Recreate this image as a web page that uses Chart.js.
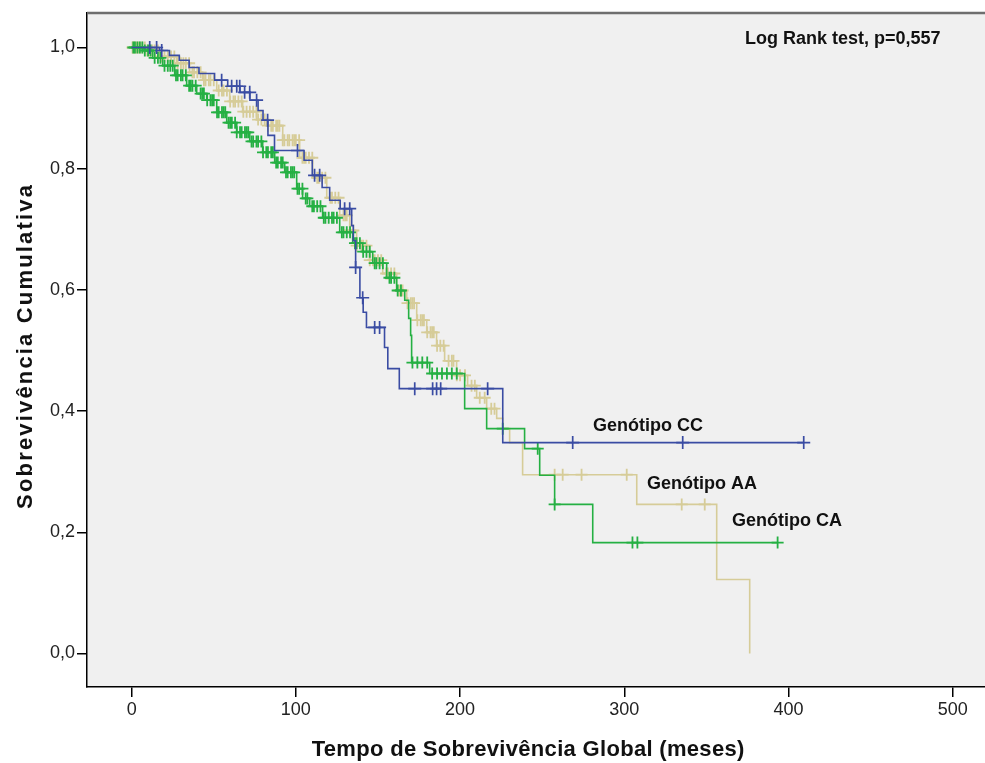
<!DOCTYPE html>
<html><head><meta charset="utf-8">
<script src="https://cdn.jsdelivr.net/npm/chart.js@4/dist/chart.umd.min.js"></script>
<style>html,body{margin:0;padding:0;background:#fff;}</style>
</head><body>
<canvas id="c" width="985" height="763"></canvas>
<script>
// ---- Data ----
const xTicks = [0, 100, 200, 300, 400, 500];
const yTicks = [0, 0.2, 0.4, 0.6, 0.8, 1.0];

// Genótipo CC (blue): event times and survival after each event
const ccTimes = [17,23,29,35,41,50.5,58.5,66,72,77,80,83,87,105,110,116,120.6,127,134,135,136.4,139,141,143,154,156,163,226];
const ccSurv  = [0.995,0.987,0.979,0.967,0.957,0.946,0.936,0.926,0.913,0.896,0.880,0.855,0.830,0.814,0.789,0.769,0.748,0.734,0.706,0.681,0.637,0.587,0.563,0.538,0.505,0.470,0.437,0.348];
const ccEnd = 409.3;
const ccCensor = [11,15.2,18.3,54.8,60.9,64,65.8,68.8,71.9,76.1,82.8,101,111.4,114.5,129.7,132.8,136.4,140.7,148,151,172.4,183.3,185.7,188.2,216.8,268.6,335.6,409.3];

// Genótipo CA (green)
const caTimes = [6.7,12.8,18.9,26.2,33.5,39.6,45.7,51.8,57.9,64.0,71.9,79.8,87.1,93.2,100.5,104.1,108.4,116.3,126.7,134.6,140.7,146.8,155.3,161.4,166.3,168.7,169.9,170.5,181.5,202.8,216.2,239.3,248.5,257.6,280.8];
const caSurv  = [0.995,0.983,0.970,0.954,0.937,0.924,0.913,0.893,0.876,0.860,0.845,0.827,0.810,0.794,0.767,0.751,0.738,0.719,0.695,0.677,0.663,0.644,0.620,0.599,0.583,0.553,0.525,0.480,0.462,0.404,0.371,0.338,0.294,0.246,0.183];
const caEnd = 393.4;
const caCensor = [1,2,3.5,5,6.5,8,10,11.5,14,16,17.5,20,22,23.5,25,27,28,30,31,33,35,36,37,39,42,43,44,46,48,49,50,52,53,55,56,57,59,60,61,63,64,66,67,69,70,71,73,74,76,77,79,80,82,83,85,86,88,89,91,92,94,95,97,98,99,101,102,104,106,107,110,111,113,115,117,118,120,122,123,125,128,129,131,133,136,137,139,141,143,145,148,149,151,153,157,158,160,162,164,171,174,177,180,183,186,189,192,195,198,226,247.3,257.6,305,308,393.4];

// Genótipo AA (tan)
const aaTimes = [9.1,17.1,27.4,35.3,43.2,51.8,59.7,67.6,76.1,82.2,92.0,102.3,110.2,118.8,126.7,132.8,137.0,144.9,152.9,161.4,167.5,173.6,179.7,185.7,190.6,197.9,204.6,210.1,216.2,222.3,226,230.2,238.1,307.6,356.3,376.4];
const aaSurv  = [0.995,0.985,0.974,0.959,0.946,0.929,0.911,0.894,0.881,0.871,0.847,0.818,0.785,0.752,0.723,0.698,0.673,0.649,0.627,0.599,0.578,0.550,0.530,0.508,0.483,0.459,0.442,0.422,0.404,0.388,0.371,0.348,0.295,0.246,0.122,0.0];
const aaEnd = 376.4;
const aaCensor = [0.5,1,2,3,4,5,6.5,8,9.5,11,12.5,14,16,18,20,22,24,26,28,30,31.5,33,35,37,38,40,42,44,45,47,48,50,53,55,56,58,60,62,63,65,67,68,70,72,74,76,77,79,81,83,85,86,88,89,90,92,93,95,96,98,99,100,102,104,105,106,108,110,113,114,116,118,121,122,124,126,129,130,131,133,135,137,140,141,143,145,147,148,150,152,155,156,158,160,163,164,165,168,170,171,172,174,176,177,178,180,182,183,184,186,188,190,193,195,196,198,200,203,207,209,212,215,219,221,257.6,262.5,274,301.5,335,349];

const groupLabels = ['Genótipo CC', 'Genótipo AA', 'Genótipo CA'];
const testLabel = 'Log Rank test, p=0,557';
const xTitle = 'Tempo de Sobrevivência Global (meses)';
const yTitle = 'Sobrevivência Cumulativa';

// ---- helpers ----
const FONT = "'Liberation Sans', Arial, sans-serif";
const BLUE = '#3a4ca3', GREEN = '#25b043', TAN = '#d6cc98';

function stepPoints(times, surv, end) {
  const pts = [{x: 0, y: 1}];
  times.forEach((t, i) => pts.push({x: t, y: surv[i]}));
  if (end > times[times.length - 1]) pts.push({x: end, y: surv[surv.length - 1]});
  return pts;
}
function censorPoints(cens, times, surv) {
  return cens.map(t => {
    let s = 1;
    for (let i = 0; i < times.length; i++) if (times[i] <= t) s = surv[i];
    return {x: t, y: s};
  });
}
function lineDs(data, color, order) {
  return {data, showLine: true, stepped: true, borderColor: color, borderWidth: 1.6,
          pointRadius: 0, fill: false, order};
}
function censDs(data, color, order, r, w) {
  return {data, showLine: false, pointStyle: 'cross', pointRadius: r, pointBorderColor: color,
          pointBackgroundColor: color, pointBorderWidth: w, order};
}

const bgPlugin = {
  id: 'bg',
  beforeDraw(chart) {
    const {ctx, chartArea: a} = chart;
    ctx.save();
    ctx.fillStyle = '#ffffff';
    ctx.fillRect(0, 0, chart.width, chart.height);
    ctx.fillStyle = '#f0f0f0';
    ctx.fillRect(a.left, a.top, a.right - a.left, a.bottom - a.top);
    ctx.restore();
  }
};

function fitText(ctx, text, cx, y, target) {
  ctx.letterSpacing = '0px';
  const w0 = ctx.measureText(text).width;
  const ls = (target - w0) / text.length;
  ctx.letterSpacing = ls + 'px';
  const w1 = ctx.measureText(text).width - ls;
  ctx.textAlign = 'left';
  ctx.fillText(text, cx - w1 / 2, y);
  ctx.letterSpacing = '0px';
}

const textPlugin = {
  id: 'texts',
  afterDraw(chart) {
    const {ctx, chartArea: a} = chart;
    ctx.save();
    ctx.strokeStyle = '#6e6e6e';
    ctx.lineWidth = 2.5;
    ctx.beginPath(); ctx.moveTo(a.left, a.top); ctx.lineTo(chart.width, a.top); ctx.stroke();

    ctx.fillStyle = '#111';
    ctx.textBaseline = 'alphabetic';
    ctx.textAlign = 'left';
    ctx.font = 'bold 18px ' + FONT;
    ctx.fillText(testLabel, 745, 44);
    ctx.fillText(groupLabels[0], 593, 431);
    ctx.fillText(groupLabels[1], 647, 489);
    ctx.fillText(groupLabels[2], 732, 526);

    ctx.font = 'bold 22px ' + FONT;
    fitText(ctx, xTitle, 528, 756, 433);
    ctx.font = 'bold 22px ' + FONT;
    ctx.translate(32, 347);
    ctx.rotate(-Math.PI / 2);
    fitText(ctx, yTitle, 0, 0, 326);
    ctx.restore();
  }
};

new Chart(document.getElementById('c'), {
  type: 'scatter',
  data: {
    datasets: [
      lineDs(stepPoints(ccTimes, ccSurv, ccEnd), BLUE, 0),
      censDs(censorPoints(ccCensor, ccTimes, ccSurv), BLUE, 0, 6.5, 1.7),
      lineDs(stepPoints(caTimes, caSurv, caEnd), GREEN, 1),
      censDs(censorPoints(caCensor, caTimes, caSurv), GREEN, 1, 6, 1.8),
      lineDs(stepPoints(aaTimes, aaSurv, aaEnd), TAN, 2),
      censDs(censorPoints(aaCensor, aaTimes, aaSurv), TAN, 2, 6, 1.8)
    ]
  },
  options: {
    responsive: false,
    devicePixelRatio: 1,
    animation: false,
    events: [],
    layout: {autoPadding: false, padding: {top: 13, left: 0, right: 0, bottom: 0}},
    plugins: {legend: {display: false}, tooltip: {enabled: false}},
    scales: {
      x: {
        type: 'linear', min: -27.2, max: 519.7,
        afterBuildTicks: s => { s.ticks = xTicks.map(v => ({value: v})); },
        afterFit: s => { s.height = 76; s.paddingLeft = 0; s.paddingRight = 0; },
        grid: {drawOnChartArea: false, drawTicks: true, tickLength: 10, color: '#000', lineWidth: 1.5},
        border: {display: true, color: '#000', width: 1.5},
        ticks: {font: {family: FONT, size: 18}, color: '#222', padding: 2, maxRotation: 0, autoSkip: false,
                callback: v => String(v)}
      },
      y: {
        type: 'linear', min: -0.0553, max: 1.0569,
        afterBuildTicks: s => { s.ticks = yTicks.map(v => ({value: v})); },
        afterFit: s => { s.width = 87; s.paddingTop = 0; s.paddingBottom = 0; },
        grid: {drawOnChartArea: false, drawTicks: true, tickLength: 10, color: '#000', lineWidth: 1.5},
        border: {display: true, color: '#000', width: 1.5},
        ticks: {font: {family: FONT, size: 18}, color: '#222', padding: 2, autoSkip: false,
                callback: v => v.toFixed(1).replace('.', ',')}
      }
    }
  },
  plugins: [bgPlugin, textPlugin]
});
</script>
</body></html>
